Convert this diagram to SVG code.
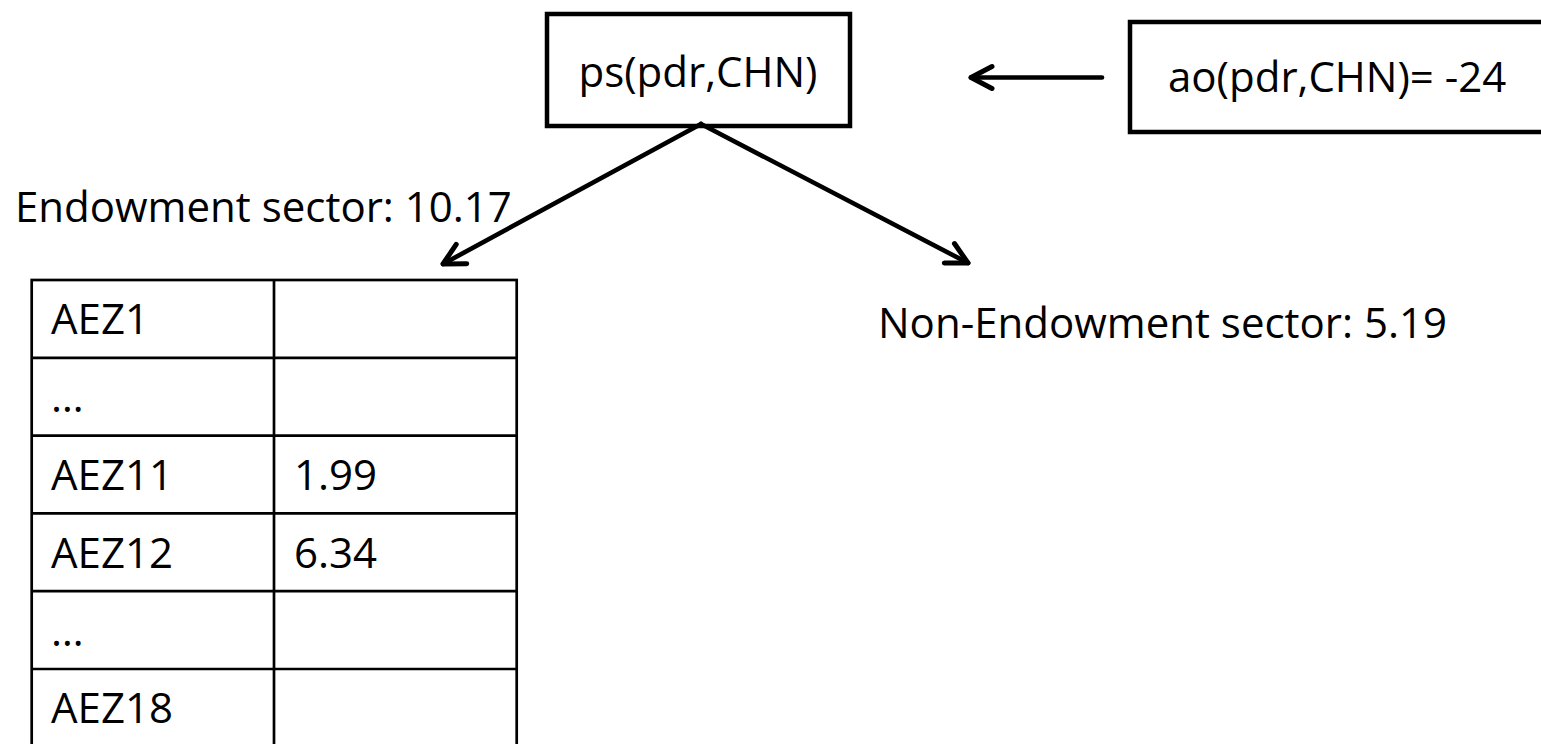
<svg xmlns="http://www.w3.org/2000/svg" width="1541" height="744" viewBox="0 0 1541 744">
  <style>
    .t { font-family: "Open Sans", "Noto Sans", "Liberation Sans", sans-serif; font-size: 42px; fill: #000; }
    .box { fill: #fff; stroke: #000; stroke-width: 4.5; }
    .conn { fill: none; stroke: #000; stroke-width: 4.6; stroke-linecap: round; }
    .grid { fill: none; stroke: #000; stroke-width: 2.7; }
  </style>
  <defs>
    <marker id="arrow" markerUnits="userSpaceOnUse" markerWidth="40" markerHeight="40" viewBox="-30 -20 40 40" refX="0" refY="0" orient="auto">
      <path d="M-21,-11 L0,0 L-21,11" fill="none" stroke="#000" stroke-width="5" stroke-linecap="round" stroke-linejoin="round"/>
    </marker>
  </defs>
  <rect width="1541" height="744" fill="#fff"/>

  <g id="node-ps">
    <rect class="box" x="547" y="14" width="303" height="112"/>
    <text class="t" x="698" y="87" text-anchor="middle">ps(pdr,CHN)</text>
  </g>

  <g id="node-ao">
    <rect class="box" x="1130" y="22" width="440" height="110"/>
    <text class="t" x="1168" y="92">ao(pdr,CHN)= -24</text>
  </g>

  <g id="node-endowment">
    <text class="t" x="15" y="222">Endowment sector: 10.17</text>
  </g>

  <g id="node-nonendowment">
    <text class="t" x="878" y="338">Non-Endowment sector: 5.19</text>
  </g>

  <g id="node-table">
    <rect class="grid" x="31.7" y="280" width="485" height="467"/>
    <line class="grid" x1="274" y1="280" x2="274" y2="747"/>
    <line class="grid" x1="31.7" y1="357.8" x2="516.7" y2="357.8"/>
    <line class="grid" x1="31.7" y1="435.6" x2="516.7" y2="435.6"/>
    <line class="grid" x1="31.7" y1="513.4" x2="516.7" y2="513.4"/>
    <line class="grid" x1="31.7" y1="591.2" x2="516.7" y2="591.2"/>
    <line class="grid" x1="31.7" y1="669" x2="516.7" y2="669"/>
    <text class="t" x="51" y="334">AEZ1</text>
    <text class="t" x="51" y="412">…</text>
    <text class="t" x="51" y="490">AEZ11</text>
    <text class="t" x="294" y="490">1.99</text>
    <text class="t" x="51" y="568">AEZ12</text>
    <text class="t" x="294" y="568">6.34</text>
    <text class="t" x="51" y="646">…</text>
    <text class="t" x="51" y="723">AEZ18</text>
  </g>

  <g id="connectors">
    <line class="conn" x1="1102" y1="77.5" x2="971" y2="77.5" marker-end="url(#arrow)"/>
    <line class="conn" x1="701" y1="124" x2="443" y2="264" marker-end="url(#arrow)"/>
    <line class="conn" x1="701" y1="124" x2="968" y2="263" marker-end="url(#arrow)"/>
  </g>
</svg>
